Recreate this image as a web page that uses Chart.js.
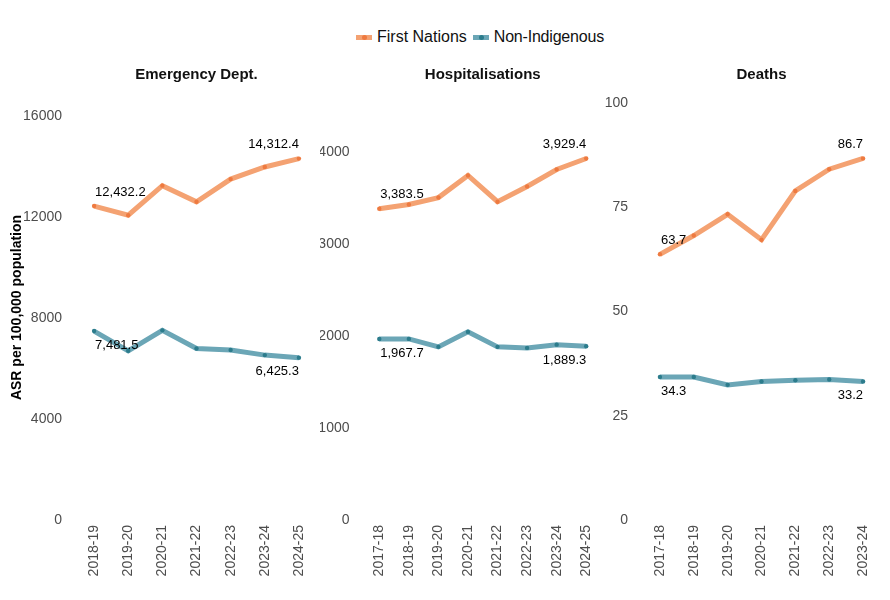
<!DOCTYPE html>
<html>
<head>
<meta charset="utf-8">
<script src="https://cdn.jsdelivr.net/npm/chart.js@4"></script>
<style>
  body { margin: 0; background: #fff; }
  #wrap { position: relative; width: 890px; height: 600px; font-family: 'Liberation Sans', Arial, sans-serif; }
  canvas { position: absolute; }
  #legend { position: absolute; left: 356px; top: 27px; display: flex; align-items: center; font-size: 16px; line-height: 20px; color: #111; }
  .sw { position: relative; width: 16px; height: 5px; margin-right: 5px; }
  .sw i { position: absolute; left: 6px; top: 0; width: 5px; height: 5px; border-radius: 50%; }
</style>
</head>
<body>
<div id="wrap">
  <div id="legend">
    <span class="sw" style="background:#f4a272"><i style="background:#ee7a40"></i></span><span style="margin-right:6px">First Nations</span>
    <span class="sw" style="background:#6ba6b6"><i style="background:#2c7c8c"></i></span><span style="letter-spacing:-0.2px">Non-Indigenous</span>
  </div>
  <canvas id="c1" width="320" height="545" style="left:0;top:55px"></canvas>
  <canvas id="c2" width="285" height="545" style="left:320px;top:55px"></canvas>
  <canvas id="c3" width="285" height="545" style="left:605px;top:55px"></canvas>
</div>
<script>
const seriesNames = ["First Nations", "Non-Indigenous"];

const edYears = ["2018-19", "2019-20", "2020-21", "2021-22", "2022-23", "2023-24", "2024-25"];
const edFirstNations = [12432.2, 12070, 13240, 12600, 13500, 13980, 14312.4];
const edNonIndigenous = [7481.5, 6700, 7510, 6790, 6730, 6530, 6425.3];
const edTicks = [0, 4000, 8000, 12000, 16000];

const hospYears = ["2017-18", "2018-19", "2019-20", "2020-21", "2021-22", "2022-23", "2023-24", "2024-25"];
const hospFirstNations = [3383.5, 3430, 3505, 3745, 3460, 3625, 3810, 3929.4];
const hospNonIndigenous = [1967.7, 1968.5, 1882, 2045, 1882, 1871, 1906, 1889.3];
const hospTicks = [0, 1000, 2000, 3000, 4000];

const deathYears = ["2017-18", "2018-19", "2019-20", "2020-21", "2021-22", "2022-23", "2023-24"];
const deathFirstNations = [63.7, 68.2, 73.3, 67.2, 78.9, 84.1, 86.7];
const deathNonIndigenous = [34.3, 34.3, 32.4, 33.2, 33.5, 33.7, 33.2];
const deathTicks = [0, 25, 50, 75, 100];

Chart.defaults.font.family = "'Liberation Sans', Arial, sans-serif";
Chart.defaults.animation = false;

const lineColors = ["#f4a272", "#6ba6b6"];
const pointColors = ["#ee7a40", "#2c7c8c"];

// panel title over the plot area + labels on first and last point of each line
const panelText = {
  id: "panelText",
  afterDatasetsDraw(chart, args, opts) {
    const ctx = chart.ctx;
    const area = chart.chartArea;
    ctx.save();
    ctx.fillStyle = "#111";
    ctx.textBaseline = "middle";
    ctx.textAlign = "center";
    ctx.font = "bold 15px 'Liberation Sans', Arial, sans-serif";
    ctx.fillText(opts.title, (area.left + area.right) / 2, 20);

    ctx.font = "13px 'Liberation Sans', Arial, sans-serif";
    ctx.fillStyle = "#000";
    chart.data.datasets.forEach((ds, di) => {
      const pts = chart.getDatasetMeta(di).data;
      const dy = di === 0 ? -14 : 14;
      [0, pts.length - 1].forEach((i) => {
        const txt = ds.data[i].toLocaleString("en-US", { minimumFractionDigits: 1, maximumFractionDigits: 1 });
        ctx.textAlign = i === 0 ? "left" : "right";
        ctx.fillText(txt, pts[i].x + (i === 0 ? 1 : 0), pts[i].y + dy);
      });
    });
    ctx.restore();
  },
};

function makePanel(id, title, labels, fn, ni, tickVals, max, axisWidth, rightPad, yTitle) {
  return new Chart(document.getElementById(id), {
    type: "line",
    data: {
      labels: labels,
      datasets: [fn, ni].map((d, i) => ({
        label: seriesNames[i],
        data: d,
        borderColor: lineColors[i],
        borderWidth: 5,
        pointRadius: 2.2,
        pointBackgroundColor: pointColors[i],
        pointBorderWidth: 0,
        tension: 0,
      })),
    },
    options: {
      responsive: false,
      layout: { padding: { left: 0, right: rightPad, top: 40, bottom: 0 } },
      plugins: {
        legend: { display: false },
        tooltip: { enabled: false },
        title: { display: false },
        panelText: { title: title },
      },
      scales: {
        x: {
          offset: true,
          grid: { display: false },
          border: { display: false },
          ticks: { color: "#4d4d4d", font: { size: 14 }, minRotation: 90, maxRotation: 90, padding: -3, autoSkip: false },
          afterFit: (s) => { s.height = 80; },
        },
        y: {
          min: 0,
          max: max,
          grid: { display: false },
          border: { display: false },
          ticks: { color: "#4d4d4d", font: { size: 14 }, padding: 7, callback: (v) => String(v) },
          afterBuildTicks: (s) => { s.ticks = tickVals.map((v) => ({ value: v })); },
          afterFit: (s) => { s.width = axisWidth; },
          title: yTitle
            ? { display: true, text: yTitle, color: "#000", font: { size: 14, weight: "bold" }, padding: { top: 9, bottom: 0 } }
            : { display: false },
        },
      },
    },
    plugins: [panelText],
  });
}

makePanel("c1", "Emergency Dept.", edYears, edFirstNations, edNonIndigenous, edTicks, 16830, 77, 3, "ASR per 100,000 population");
makePanel("c2", "Hospitalisations", hospYears, hospFirstNations, hospNonIndigenous, hospTicks, 4620, 44.5, 3, null);
makePanel("c3", "Deaths", deathYears, deathFirstNations, deathNonIndigenous, deathTicks, 101.9, 38, 10, null);
</script>
</body>
</html>
